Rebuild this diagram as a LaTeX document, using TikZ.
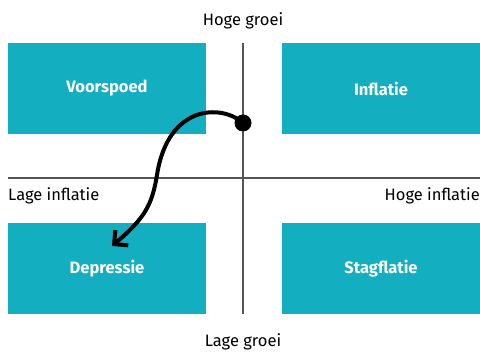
\documentclass[tikz,border=0pt]{standalone}
\usepackage{fontspec}
\setmainfont{Fira Sans}
\usetikzlibrary{arrows.meta}
\definecolor{teal1}{HTML}{13AEBF}
\definecolor{axisgray}{HTML}{555555}
\tikzset{
  quad/.style={fill=teal1, draw=none, minimum width=198pt, minimum height=91pt, inner sep=0pt,
    font=\fontsize{16.5}{18}\selectfont\bfseries, text=white},
  axislabel/.style={font=\fontsize{16.5}{18}\selectfont, text=black, inner sep=0pt},
  axis/.style={draw=axisgray, line width=1.1pt},
  move/.style={line width=4pt, -{Straight Barb[length=10pt,width=20pt,line width=4pt]}}
}
\begin{document}
\begin{tikzpicture}[x=1pt,y=-1pt]
\useasboundingbox (0,0) rectangle (480,352);
\node[quad] (vs) at (107,88.5) {Voorspoed};
\node[quad] (inf) at (381,88.5) {Inflatie};
\node[quad] (dep) at (107,268.5) {Depressie};
\node[quad] (stag) at (381,268.5) {Stagflatie};
\coordinate (vtop) at (243,43);
\coordinate (vbot) at (243,314);
\coordinate (hl) at (8,178);
\coordinate (hr) at (480,178);
\draw[axis] (vtop) -- (vbot);
\draw[axis] (hl) -- (hr);
\node[axislabel] (hg) at (243,21) {Hoge groei};
\node[axislabel] (lg) at (243,342) {Lage groei};
\node[axislabel, anchor=west] (li) at (8,196) {Lage inflatie};
\node[axislabel, anchor=east] (hi) at (480,196) {Hoge inflatie};
\node[circle, fill=black, minimum size=17pt, inner sep=0pt] (dot) at (243,123) {};
\coordinate (tip) at (112,246);
\draw[move] (dot.center) .. controls (222,104) and (168,104) .. (157,175)
  .. controls (152,205) and (145,218) .. (tip);
\end{tikzpicture}
\end{document}
